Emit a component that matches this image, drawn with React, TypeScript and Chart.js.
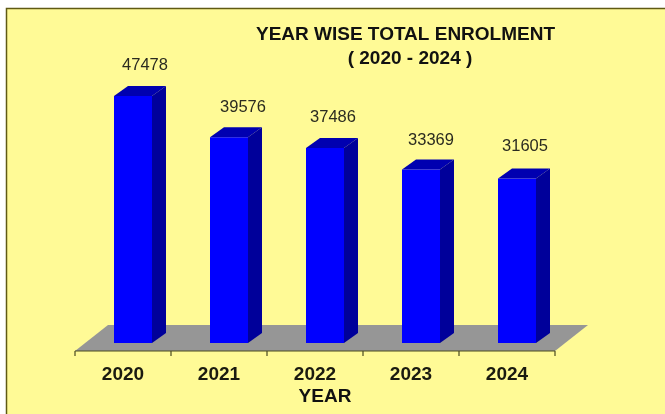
import React, { useEffect, useRef } from "react";
import { Chart, registerables } from "chart.js";

Chart.register(...registerables);

const categories = ["2020", "2021", "2022", "2023", "2024"];
const enrolment = [47478, 39576, 37486, 33369, 31605];
const titleLines = ["YEAR WISE TOTAL ENROLMENT", "( 2020 - 2024 )"];
const xTitle = "YEAR";

const FONT = "'Liberation Sans', Arial, sans-serif";
const DEPTH_X = 14;
const DEPTH_Y = 10;
const AXIS_SHIFT_X = -10;
const AXIS_SHIFT_Y = 8;
const FLOOR_DX = 33;
const FLOOR_DY = 26;
const LABEL_NUDGE_X = [0, 2, -4, -2, -4];
const LABEL_NUDGE_Y = [-1, 0, -1, 1, -3];

const poly = (ctx: CanvasRenderingContext2D, pts: number[][], fill: string) => {
  ctx.beginPath();
  pts.forEach(([x, y], i) => (i ? ctx.lineTo(x, y) : ctx.moveTo(x, y)));
  ctx.closePath();
  ctx.fillStyle = fill;
  ctx.fill();
};

const scenePlugin = {
  id: "scene",
  beforeDraw(chart: any) {
    const { ctx, width, height } = chart;
    ctx.save();
    ctx.fillStyle = "#ffffff";
    ctx.fillRect(0, 0, width, height);
    ctx.fillStyle = "#FFFA96";
    ctx.fillRect(6, 8, width - 6, height - 8);
    ctx.strokeStyle = "#5f5a14";
    ctx.lineWidth = 1.5;
    ctx.beginPath();
    ctx.moveTo(6.5, height);
    ctx.lineTo(6.5, 8.5);
    ctx.lineTo(width, 8.5);
    ctx.stroke();
    ctx.restore();
  },
  beforeDatasetsDraw(chart: any) {
    const { ctx, chartArea } = chart;
    const left = chartArea.left + AXIS_SHIFT_X;
    const right = chartArea.right + AXIS_SHIFT_X;
    const base = chartArea.bottom + AXIS_SHIFT_Y;
    ctx.save();
    poly(ctx, [[left, base], [left + FLOOR_DX, base - FLOOR_DY], [right + FLOOR_DX, base - FLOOR_DY], [right, base]], "#969696");
    ctx.strokeStyle = "#4a4a20";
    ctx.lineWidth = 1.2;
    ctx.beginPath();
    ctx.moveTo(left, base);
    ctx.lineTo(right, base);
    for (let i = 0; i <= categories.length; i++) {
      const tx = left + (i * (right - left)) / categories.length;
      ctx.moveTo(tx, base);
      ctx.lineTo(tx, base + 5);
    }
    ctx.stroke();
    chart.getDatasetMeta(0).data.forEach((bar: any) => {
      const l = bar.x - bar.width / 2;
      const r = bar.x + bar.width / 2;
      const t = bar.y;
      const b = bar.base;
      poly(ctx, [[r, t], [r + DEPTH_X, t - DEPTH_Y], [r + DEPTH_X, b - DEPTH_Y], [r, b]], "#00009A");
      poly(ctx, [[l, t], [l + DEPTH_X, t - DEPTH_Y], [r + DEPTH_X, t - DEPTH_Y], [r, t]], "#0000B0");
    });
    ctx.restore();
  },
  afterDatasetsDraw(chart: any) {
    const { ctx } = chart;
    ctx.save();
    ctx.fillStyle = "#2b2b20";
    ctx.font = `16.5px ${FONT}`;
    ctx.textAlign = "center";
    ctx.textBaseline = "alphabetic";
    chart.getDatasetMeta(0).data.forEach((bar: any, i: number) => {
      ctx.fillText(String(enrolment[i]), bar.x + 12 + LABEL_NUDGE_X[i], bar.y - 25 + LABEL_NUDGE_Y[i]);
    });
    ctx.fillStyle = "#111111";
    ctx.font = `bold 19px ${FONT}`;
    ctx.fillText(titleLines[0], 405.5, 40);
    ctx.fillText(titleLines[1], 410, 64);
    ctx.restore();
  },
};

export default function App() {
  const ref = useRef<HTMLCanvasElement | null>(null);

  useEffect(() => {
    document.body.style.margin = "0";
    const chart = new Chart(ref.current as HTMLCanvasElement, {
      type: "bar",
      data: {
        labels: categories,
        datasets: [
          {
            label: "Total enrolment",
            data: enrolment,
            backgroundColor: "#0000FF",
            borderWidth: 0,
            barPercentage: 38 / 96,
            categoryPercentage: 1,
          },
        ],
      },
      options: {
        animation: false,
        responsive: false,
        devicePixelRatio: 1,
        layout: { padding: { left: 85, right: 100, top: 20, bottom: 0 } },
        plugins: { legend: { display: false }, tooltip: { enabled: false }, title: { display: false } },
        scales: {
          x: {
            grid: { display: false },
            border: { display: false },
            afterFit: (scale: any) => {
              scale.height = 71;
            },
            ticks: {
              labelOffset: AXIS_SHIFT_X,
              padding: 12,
              color: "#1a1a10",
              font: { family: FONT, size: 19, weight: "bold" },
            },
            title: {
              display: true,
              text: xTitle,
              color: "#111111",
              padding: { top: 0, bottom: 6 },
              font: { family: FONT, size: 19, weight: "bold" },
            },
          },
          y: { display: false, min: 0, max: 62100 },
        },
      },
      plugins: [scenePlugin],
    } as any);
    return () => chart.destroy();
  }, []);

  return <canvas ref={ref} width={665} height={414} style={{ display: "block" }} />;
}
